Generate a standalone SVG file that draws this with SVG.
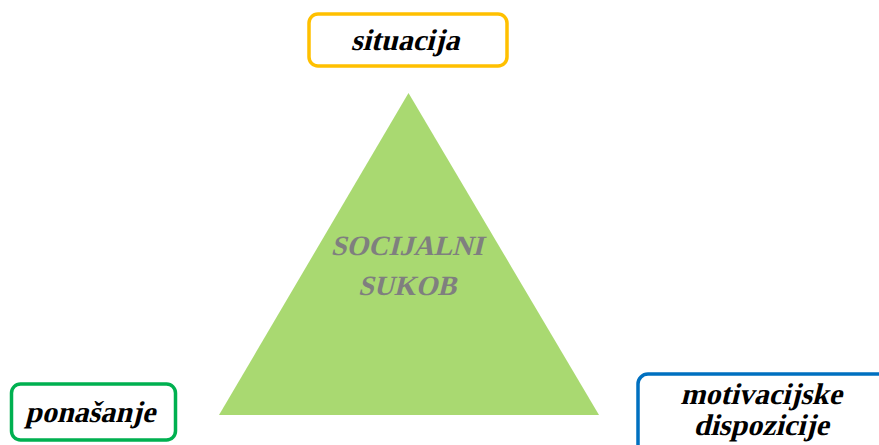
<svg xmlns="http://www.w3.org/2000/svg" width="879" height="445" viewBox="0 0 879 445">
<style>
.box{fill:#ffffff;stroke-width:3.5}
.lbl{font-family:'Liberation Serif','Times New Roman',serif;font-weight:700;font-size:30px;fill:#000000;text-anchor:middle}
.core{font-family:'Liberation Serif','Times New Roman',serif;font-weight:700;font-size:28px;fill:#7f7f7f;text-anchor:middle}
</style>
<rect width="879" height="445" fill="#ffffff"/>
<g id="triangle">
<polygon points="408.5,93 219,415 599,415" fill="#a9d971"/>
<text class="core" transform="translate(407,255) skewX(-14)">SOCIJALNI</text>
<text class="core" transform="translate(407,295) skewX(-14)">SUKOB</text>
</g>
<g id="connectors"></g>
<g id="situacija">
<rect class="box" x="309" y="14" width="198" height="52" rx="9" stroke="#ffc000"/>
<text class="lbl" transform="translate(405,50) skewX(-14)" font-size="31">situacija</text>
</g>
<g id="ponasanje">
<rect class="box" x="11.5" y="384" width="164" height="56" rx="9" stroke="#00b050"/>
<text class="lbl" transform="translate(90,422) skewX(-14)">ponašanje</text>
</g>
<g id="motivacijske">
<rect class="box" x="638" y="374" width="260" height="90" rx="10" stroke="#0070c0"/>
<text class="lbl" transform="translate(761,404) skewX(-14)">motivacijske</text>
<text class="lbl" transform="translate(761,435) skewX(-14)">dispozicije</text>
</g>
</svg>
